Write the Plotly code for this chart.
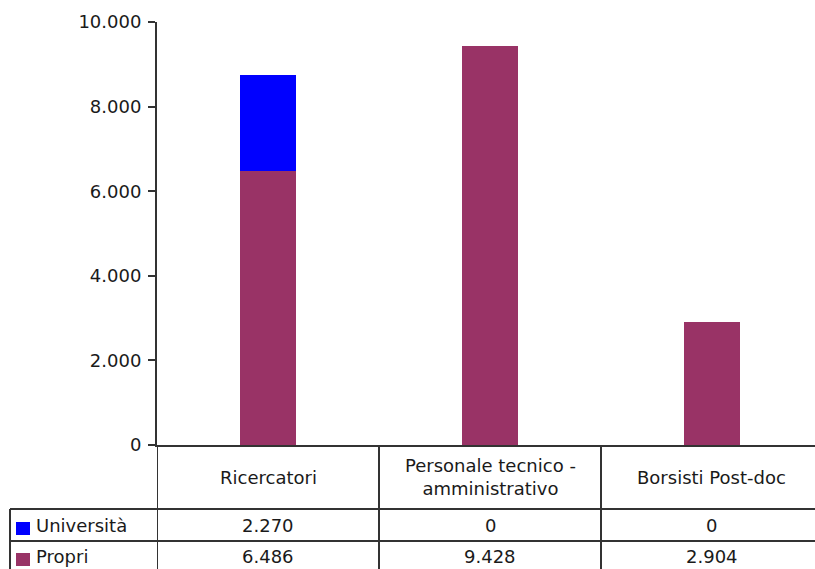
import plotly.graph_objects as go

categories = ["Ricercatori", "Personale tecnico -<br>amministrativo", "Borsisti Post-doc"]
series_names = ["Università", "Propri"]
universita = [2270, 0, 0]
propri = [6486, 9428, 2904]
colors = ["#0000FF", "#993366"]
y_ticks = [0, 2000, 4000, 6000, 8000, 10000]

FONT = "Verdana, DejaVu Sans, sans-serif"
FS = 18
TXT = "#1a1a1a"
LINE = "#333333"

def fmt(v):
    return f"{v:,}".replace(",", ".")

xs = list(range(len(categories)))
fig = go.Figure()
fig.add_trace(go.Bar(x=xs, y=propri, name=series_names[1], marker=dict(color=colors[1], line=dict(width=0)), width=0.25))
fig.add_trace(go.Bar(x=xs, y=universita, name=series_names[0], marker=dict(color=colors[0], line=dict(width=0)), width=0.25))

H = 423.0  # plot height in px
def py(p):
    return (445 - p) / H

shapes = []
for xv in [-0.5, 0.5, 1.5]:
    shapes.append(dict(type="line", xref="x", yref="paper", x0=xv, x1=xv, y0=0, y1=py(600),
                       line=dict(color=LINE, width=2)))
xl = (10 - 157) / 658
shapes.append(dict(type="line", xref="paper", yref="paper", x0=xl, x1=xl, y0=py(509), y1=py(600),
                   line=dict(color=LINE, width=2)))
for rp in [509, 541]:
    shapes.append(dict(type="line", xref="paper", yref="paper", x0=xl, x1=1.05, y0=py(rp), y1=py(rp),
                       line=dict(color=LINE, width=2)))
for i, rp in enumerate([522, 553]):
    shapes.append(dict(type="rect", xref="paper", yref="paper",
                       x0=(16 - 157) / 658, x1=(30 - 157) / 658, y0=py(rp), y1=py(rp + 13),
                       fillcolor=colors[i], line=dict(width=0)))

annotations = []
for i, c in enumerate(categories):
    annotations.append(dict(x=i, y=py(477), xref="x", yref="paper", text=c, showarrow=False,
                            font=dict(family=FONT, size=FS, color=TXT), xanchor="center", yanchor="middle"))
    annotations.append(dict(x=i, y=py(525), xref="x", yref="paper", text=fmt(universita[i]), showarrow=False,
                            font=dict(family=FONT, size=FS, color=TXT), xanchor="center", yanchor="middle"))
    annotations.append(dict(x=i, y=py(556), xref="x", yref="paper", text=fmt(propri[i]), showarrow=False,
                            font=dict(family=FONT, size=FS, color=TXT), xanchor="center", yanchor="middle"))
for name, rp in zip(series_names, [525, 556]):
    annotations.append(dict(x=(34 - 157) / 658, y=py(rp), xref="paper", yref="paper", text=name, showarrow=False,
                            font=dict(family=FONT, size=FS, color=TXT), xanchor="left", yanchor="middle"))

fig.update_layout(
    width=815, height=569,
    margin=dict(l=157, r=0, t=22, b=124),
    barmode="stack",
    showlegend=False,
    plot_bgcolor="white", paper_bgcolor="white",
    separators=",.",
    bargap=0,
    xaxis=dict(range=[-0.5, 2.464], showticklabels=False, ticks="", showgrid=False, zeroline=False,
               showline=True, linecolor=LINE, linewidth=2, fixedrange=True),
    yaxis=dict(range=[0, 10000], tickvals=y_ticks, ticktext=[fmt(v) for v in y_ticks],
               ticks="outside", ticklen=7, tickwidth=2, tickcolor=LINE,
               showline=True, linecolor=LINE, linewidth=2, showgrid=False, zeroline=False,
               tickfont=dict(family=FONT, size=FS, color=TXT), ticklabelstandoff=3),
    shapes=shapes,
    annotations=annotations,
)
fig.write_html("out.html", config={"displayModeBar": False},
               post_script="document.body.style.margin='0';document.body.style.overflow='hidden';")
